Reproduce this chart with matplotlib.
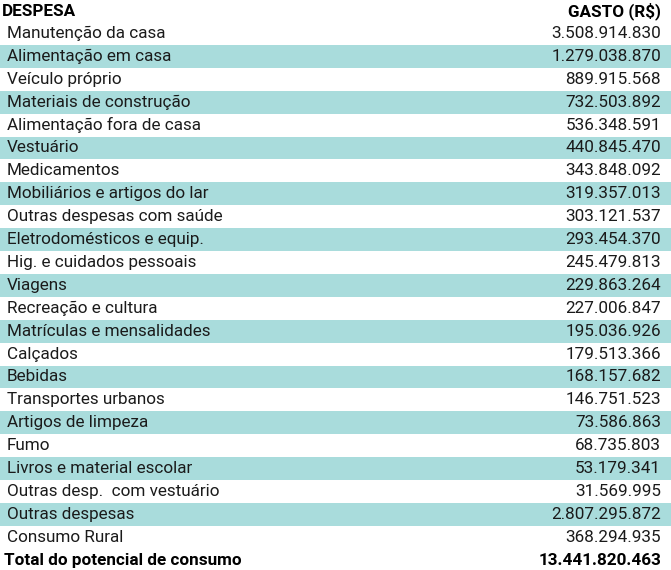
import matplotlib
matplotlib.use("Agg")
import matplotlib.pyplot as plt
from matplotlib.patches import Rectangle

categories = ["Manutenção da casa","Alimentação em casa","Veículo próprio","Materiais de construção",
 "Alimentação fora de casa","Vestuário","Medicamentos","Mobiliários e artigos do lar",
 "Outras despesas com saúde","Eletrodomésticos e equip.","Hig. e cuidados pessoais","Viagens",
 "Recreação e cultura","Matrículas e mensalidades","Calçados","Bebidas","Transportes urbanos",
 "Artigos de limpeza","Fumo","Livros e material escolar","Outras desp.  com vestuário",
 "Outras despesas","Consumo Rural"]
values = ["3.508.914.830","1.279.038.870","889.915.568","732.503.892","536.348.591","440.845.470",
 "343.848.092","319.357.013","303.121.537","293.454.370","245.479.813","229.863.264","227.006.847",
 "195.036.926","179.513.366","168.157.682","146.751.523","73.586.863","68.735.803","53.179.341",
 "31.569.995","2.807.295.872","368.294.935"]
header = ["DESPESA", "GASTO (R$)"]
total = ["Total do potencial de consumo", "13.441.820.463"]

W, H = 671, 570
fig = plt.figure(figsize=(W/100, H/100), dpi=100)
ax = fig.add_axes([0, 0, 1, 1])
ax.set_xlim(0, W); ax.set_ylim(H, 0); ax.axis("off")
font = "Roboto"
fs = 12.3
rh = 22.9
y0 = 22
ax.text(2, 11, header[0], fontfamily=font, fontweight="heavy", fontsize=fs, va="center", ha="left")
ax.text(661, 11, header[1], fontfamily=font, fontweight="heavy", fontsize=fs, va="center", ha="right")
for i, (c, v) in enumerate(zip(categories, values)):
    yt = y0 + i*rh
    if i % 2 == 1:
        ax.add_patch(Rectangle((0, yt), W, rh, color="#a9dcdc", lw=0))
    ax.text(7, yt + rh/2, c, fontfamily=font, fontsize=fs, va="center", ha="left", color="#1a1a1a")
    ax.text(661, yt + rh/2, v, fontfamily=font, fontsize=fs, va="center", ha="right", color="#1a1a1a")
yt = y0 + len(categories)*rh
ax.text(4, yt + rh/2, total[0], fontfamily=font, fontweight="heavy", fontsize=fs, va="center", ha="left")
ax.text(661, yt + rh/2, total[1], fontfamily=font, fontweight="heavy", fontsize=fs, va="center", ha="right")
fig.savefig("out.png", dpi=100)
